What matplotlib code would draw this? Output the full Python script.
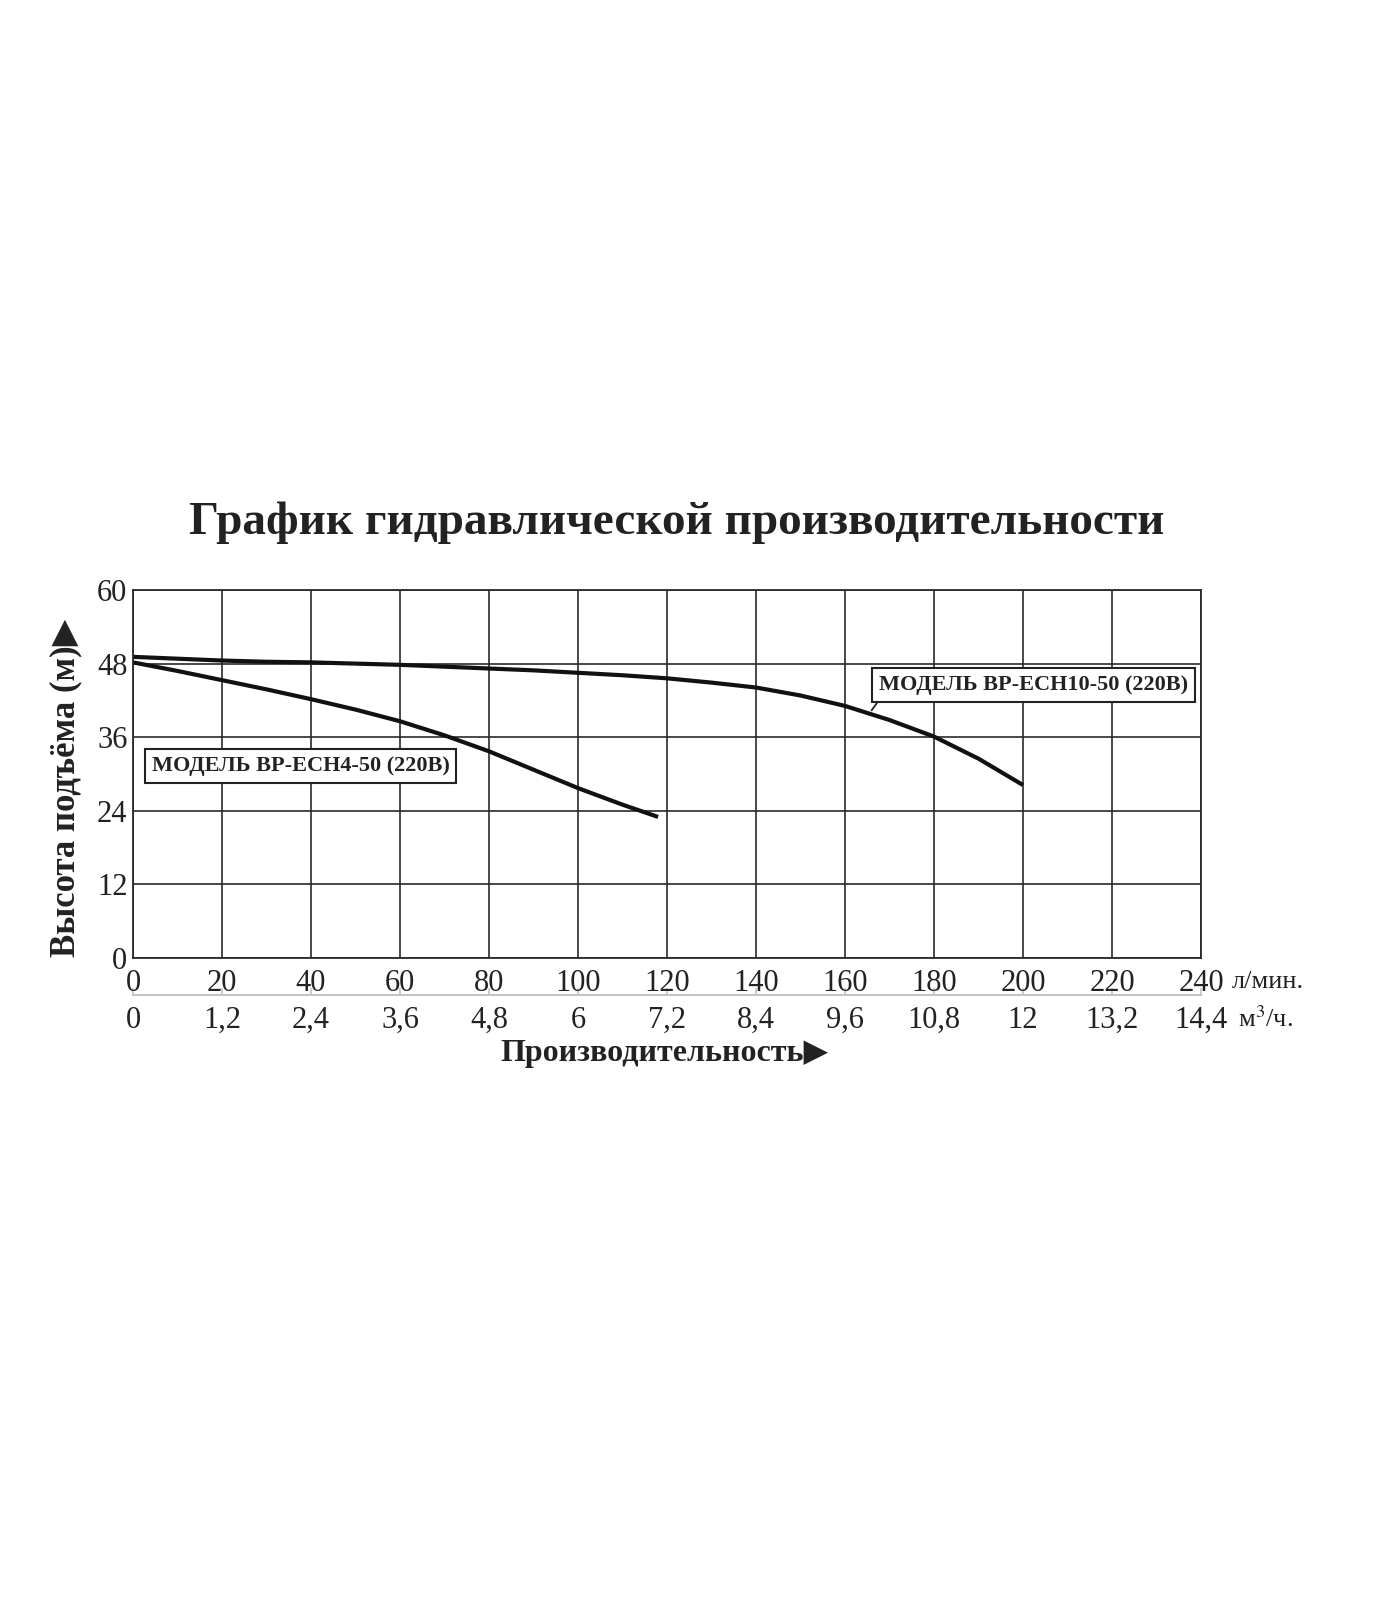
import numpy as np
import matplotlib
matplotlib.use("Agg")
import matplotlib.pyplot as plt

plt.rcParams['font.family'] = ['Liberation Serif', 'DejaVu Serif']
plt.rcParams['mathtext.fontset'] = 'stix'

# data
flow_ticks = [0, 20, 40, 60, 80, 100, 120, 140, 160, 180, 200, 220, 240]
m3h_labels = ['0', '1,2', '2,4', '3,6', '4,8', '6', '7,2', '8,4', '9,6',
              '10,8', '12', '13,2', '14,4']
head_ticks = [0, 12, 24, 36, 48, 60]

ech10_flow = [0, 10, 20, 30, 40, 50, 60, 70, 80, 90, 100, 110, 120,
              130, 140, 150, 160, 170, 180, 190, 200]
ech10_head = [49.1, 48.8, 48.5, 48.3, 48.2, 48.0, 47.8, 47.5, 47.2, 46.9, 46.5, 46.1, 45.6,
              44.9, 44.1, 42.8, 41.1, 38.8, 36.1, 32.5, 28.2]

ech4_flow = [0, 10, 20, 30, 40, 50, 60, 70, 80, 90, 100, 110, 118]
ech4_head = [48.2, 46.8, 45.3, 43.8, 42.2, 40.5, 38.6, 36.3, 33.7, 30.7, 27.7, 25.0, 23.0]

label_ech4 = 'МОДЕЛЬ BP-ECH4-50 (220B)'
label_ech10 = 'МОДЕЛЬ BP-ECH10-50 (220B)'

W, H = 1400, 1600
fig = plt.figure(figsize=(W / 100, H / 100), dpi=100)
fig.patch.set_facecolor('white')

# plot area in pixels: left 133, right 1201, top 590, bottom 958
ax = fig.add_axes([133 / W, 1 - 958 / H, (1201 - 133) / W, (958 - 590) / H])
ax.set_xlim(0, 240)
ax.set_ylim(0, 60)

grid_col = '#2a2a2a'
ax.set_xticks(flow_ticks)
ax.set_yticks(head_ticks)
ax.grid(True, color=grid_col, linewidth=1.2)
ax.set_axisbelow(True)
for s in ax.spines.values():
    s.set_color(grid_col)
    s.set_linewidth(1.3)

ax.tick_params(axis='x', length=0, pad=8, labelsize=22, colors='#222222')
ax.tick_params(axis='y', length=0, pad=4, labelsize=22, colors='#222222')

# curves
ax.plot(ech10_flow, ech10_head, color='#111111', linewidth=3, solid_capstyle='butt')
ax.plot(ech4_flow, ech4_head, color='#111111', linewidth=3, solid_capstyle='butt')

# model labels
box = dict(boxstyle='square,pad=0.3', facecolor='white', edgecolor='#222222', linewidth=1.5)
ax.text(37.7, 31.3, label_ech4, ha='center', va='center', fontsize=16,
        fontweight='bold', color='#222222', bbox=box)
ax.text(202.4, 44.5, label_ech10, ha='center', va='center', fontsize=16,
        fontweight='bold', color='#222222', bbox=box)
ax.plot([167.2, 166.0], [41.6, 40.4], color='#222222', linewidth=1.3)

# second flow scale in m3/h
sec = ax.secondary_xaxis(-0.1)
sec.set_xticks(flow_ticks)
sec.set_xticklabels(m3h_labels)
sec.spines['bottom'].set_color('#c4c4c4')
sec.spines['bottom'].set_linewidth(1.5)
sec.tick_params(axis='x', direction='in', length=5, width=1.2, color='#c4c4c4',
                pad=8, labelsize=22, labelcolor='#222222')

# units
fig.text(1232 / W, 1 - 982 / H, 'л/мин.', fontsize=19, va='center', ha='left', color='#222222')
fig.text(1238 / W, 1 - 1019 / H, 'м$^{3}$/ч.', fontsize=19, va='center', ha='left', color='#222222')

# axis labels
fig.text(66 / W, 1 - 788 / H, 'Высота подъёма (м)▶', rotation=90, fontsize=25,
         fontweight='bold', ha='center', va='center', color='#222222')
fig.text(664 / W, 1 - 1053 / H, 'Производительность▶', fontsize=23,
         fontweight='bold', ha='center', va='center', color='#222222')

# title
fig.text(677 / W, 1 - 523 / H, 'График гидравлической производительности', fontsize=34,
         fontweight='bold', ha='center', va='center', color='#222222')

fig.savefig('out.png', dpi=100, facecolor='white')
